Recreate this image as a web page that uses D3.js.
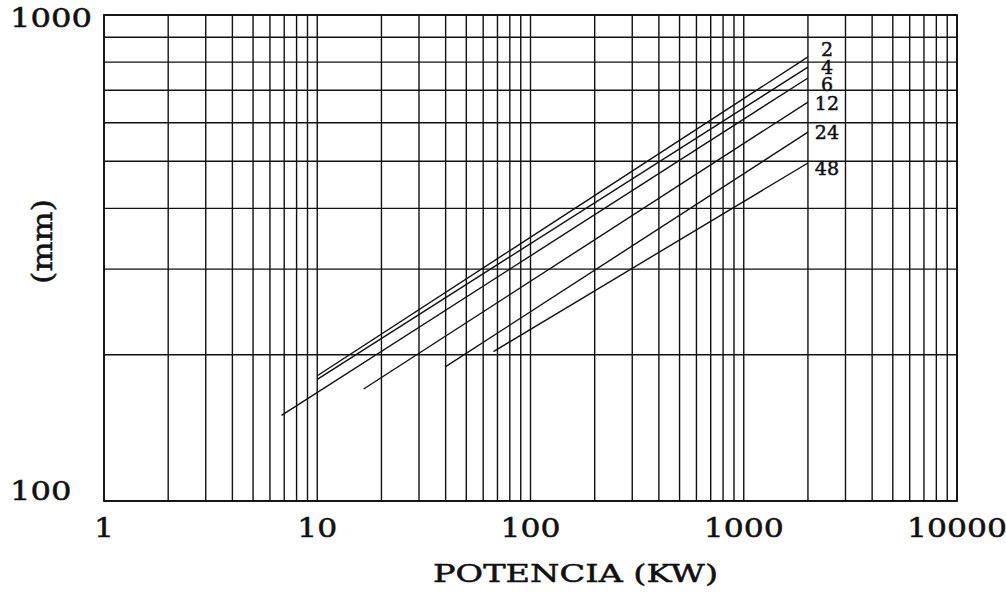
<!DOCTYPE html>
<html>
<head>
<meta charset="utf-8">
<script src="https://cdn.jsdelivr.net/npm/d3@7"></script>
<style>
  body { margin: 0; background: #fff; }
  svg text { font-family: "DejaVu Serif", "Liberation Serif", serif; fill: #111; stroke: #111; stroke-width: 0.5px; }
</style>
</head>
<body>
<svg id="chart" width="1006" height="597"></svg>
<script>
// series: label, start (kW, mm) and end (kW, mm)
var seriesNames = ['2', '4', '6', '12', '24', '48'];
var startKW = [10, 10, 6.8, 16.5, 40, 67];
var startMM = [181, 178, 150, 170, 189, 203];
var endKW = [2000, 2000, 2000, 2000, 2000, 2000];
var endMM = [820, 781, 742, 662, 574, 496];

var xTickLabels = [1, 10, 100, 1000, 10000];
var yTickLabels = [100, 1000];

var labelDy = [-8, 0, 6, 1, 0, 5];

var svg = d3.select('#chart');
var mLeft = 104, mRight = 957, mTop = 15, mBottom = 501;

var x = d3.scaleLog().domain([1, 10000]).range([mLeft, mRight]);
var y = d3.scaleLog().domain([100, 1000]).range([mBottom, mTop]);

// minor grid values 1..9 per decade
var xGrid = [];
for (var e = 0; e < 4; e++) {
	for (var m = 1; m < 10; m++) xGrid.push(m * Math.pow(10, e));
}
xGrid.push(10000);
var yGrid = [];
for (var m2 = 1; m2 <= 10; m2++) yGrid.push(m2 * 100);

var grid = svg.append('g').attr('class', 'grid');

grid.selectAll('.vline')
	.data(xGrid)
	.enter().append('line')
	.attr('class', 'vline')
	.attr('x1', function(d) { return x(d); })
	.attr('x2', function(d) { return x(d); })
	.attr('y1', mTop)
	.attr('y2', mBottom)
	.style('stroke', '#111')
	.style('stroke-width', 1.4);

grid.selectAll('.hline')
	.data(yGrid)
	.enter().append('line')
	.attr('class', 'hline')
	.attr('x1', mLeft)
	.attr('x2', mRight)
	.attr('y1', function(d) { return y(d); })
	.attr('y2', function(d) { return y(d); })
	.style('stroke', '#111')
	.style('stroke-width', 1.4);

svg.append('rect')
	.attr('x', mLeft)
	.attr('y', mTop)
	.attr('width', mRight - mLeft)
	.attr('height', mBottom - mTop)
	.style('fill', 'none')
	.style('stroke', '#111')
	.style('stroke-width', 1.8);

// series lines
var series = seriesNames.map(function(name, i) {
	return {name: name, x1: startKW[i], y1: startMM[i], x2: endKW[i], y2: endMM[i], dy: labelDy[i]};
});

svg.selectAll('.serie')
	.data(series)
	.enter().append('line')
	.attr('class', 'serie')
	.attr('x1', function(d) { return x(d.x1); })
	.attr('y1', function(d) { return y(d.y1); })
	.attr('x2', function(d) { return x(d.x2); })
	.attr('y2', function(d) { return y(d.y2); })
	.style('stroke', '#111')
	.style('stroke-width', 1.4);

svg.selectAll('.serie-label')
	.data(series)
	.enter().append('text')
	.attr('class', 'serie-label')
	.attr('x', function(d) { return x(d.x2) + 19; })
	.attr('y', function(d) { return y(d.y2) + d.dy; })
	.attr('dy', '0.35em')
	.attr('text-anchor', 'middle')
	.style('font-size', '19px')
	.text(function(d) { return d.name; });

// axis tick labels
svg.selectAll('.xtick')
	.data(xTickLabels)
	.enter().append('text')
	.attr('class', 'xtick')
	.attr('x', function(d) { return x(d) - String(d).length * 10; })
	.attr('y', 537)
	.attr('textLength', function(d) { return String(d).length * 20; })
	.attr('lengthAdjust', 'spacingAndGlyphs')
	.style('font-size', '26px')
	.text(function(d) { return d; });

svg.selectAll('.ytick')
	.data(yTickLabels)
	.enter().append('text')
	.attr('class', 'ytick')
	.attr('x', 10)
	.attr('y', function(d) { return d === 100 ? y(d) - 10 : y(d) + 3; })
	.attr('dy', '0.35em')
	.attr('textLength', function(d) { return String(d).length * 20.5; })
	.attr('lengthAdjust', 'spacingAndGlyphs')
	.style('font-size', '26px')
	.text(function(d) { return d; });

svg.append('text')
	.attr('x', 433)
	.attr('y', 582)
	.attr('textLength', 285)
	.attr('lengthAdjust', 'spacingAndGlyphs')
	.style('font-size', '24px')
	.text('POTENCIA (KW)');

svg.append('text')
	.attr('transform', 'translate(43,242) rotate(-90)')
	.attr('x', -42)
	.attr('dy', '0.35em')
	.attr('textLength', 85)
	.attr('lengthAdjust', 'spacingAndGlyphs')
	.style('font-size', '27px')
	.text('(mm)');
</script>
</body>
</html>
